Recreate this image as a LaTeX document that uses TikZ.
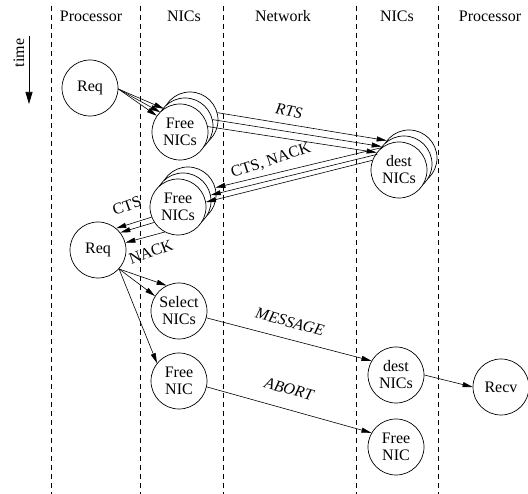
\documentclass[tikz,border=0pt]{standalone}
\usepackage{fontspec}
\setmainfont{Liberation Serif}
\usetikzlibrary{arrows.meta}

\tikzset{
  nic/.style={circle, draw, fill=white, line width=0.7pt, minimum size=56pt,
              inner sep=0pt, align=center, font=\fontsize{16}{17}\selectfont},
  lane/.style={dash pattern=on 5pt off 4pt, line width=0.7pt},
  msg/.style={-{Triangle[length=10pt,width=5pt]}, line width=0.6pt},
  head/.style={font=\fontsize{16}{17}\selectfont},
  lbl/.style={font=\fontsize{16}{17}\selectfont\itshape, inner sep=1pt},
  ulbl/.style={font=\fontsize{16}{17}\selectfont, inner sep=1pt}
}

\begin{document}
\begin{tikzpicture}[x=1pt, y=-1pt]
  \useasboundingbox (0,0) rectangle (528,494);

  % lanes
  \draw[lane] (51,6) -- (51,494);
  \draw[lane] (140,6) -- (140,494);
  \draw[lane] (223,6) -- (223,494);
  \draw[lane] (356,6) -- (356,494);
  \draw[lane] (438,6) -- (438,494);

  \node[head] (hproca) at (91,16) {Processor};
  \node[head] (hnica) at (184,16) {NICs};
  \node[head] (hnet) at (283,16) {Network};
  \node[head] (hnicb) at (397,16) {NICs};
  \node[head] (hprocb) at (490,16) {Processor};

  % time axis
  \coordinate (ttop) at (29,36);
  \coordinate (tbot) at (29,104);
  \draw[-{Triangle[length=12pt,width=7pt]}, line width=0.7pt] (ttop) -- (tbot);
  \node[head, rotate=90] (time) at (19,53) {time};

  % nodes
  \node[nic] (reqa) at (90,88) {Req};

  \node[nic] (freea3) at (190,120) {};
  \node[nic] (freea2) at (185,126) {};
  \node[nic] (freea) at (180,132) {Free\\NICs};

  \node[nic] (desta3) at (409,158) {};
  \node[nic] (desta2) at (404,164) {};
  \node[nic] (desta) at (399,170) {dest\\NICs};

  \node[nic] (freeb3) at (188,195) {};
  \node[nic] (freeb2) at (183,201) {};
  \node[nic] (freeb) at (178,207) {Free\\NICs};

  \node[nic] (reqb) at (98,250) {Req};
  \node[nic] (selnic) at (179,311) {Select\\NICs};
  \node[nic] (freenic) at (179,381) {Free\\NIC};
  \node[nic] (destb) at (396,375) {dest\\NICs};
  \node[nic] (recv) at (501,387) {Recv};
  \node[nic] (freenicb) at (396,447) {Free\\NIC};

  % request to free NICs
  \draw[msg] (reqa.-2) -- (freea3);
  \draw[msg] (reqa.-2) -- (freea2);
  \draw[msg] (reqa.-2) -- (freea);

  % RTS
  \draw[msg] (freea3.15) -- (desta3.142);
  \draw[msg] (freea2.13) -- (desta2.142);
  \draw[msg] (freea.11) -- (desta.142);
  \node[lbl, rotate=-10] (rts) at (289,111) {RTS};

  % CTS, NACK
  \draw[msg] (desta3.158) -- (freeb3.15);
  \draw[msg] (desta2.160) -- (freeb2.12);
  \draw[msg] (desta.160) -- (freeb.10);
  \node[ulbl, rotate=18] (ctsnack) at (271,161) {CTS, NACK};

  % back to the processor
  \draw[msg] (freeb.201) -- (reqb.50);
  \draw[msg] (freeb.213) -- (reqb.38);
  \draw[msg] (freeb.242) -- (reqb.15);
  \node[ulbl, rotate=20] (cts) at (127,206) {CTS};
  \node[ulbl, rotate=20] (nack) at (151,252) {NACK};

  % select and free
  \draw[msg] (reqb.-42) -- (selnic.116);
  \draw[msg] (reqb.-42) -- (selnic.148);
  \draw[msg] (reqb.-42) -- (freenic.141);

  % MESSAGE and ABORT
  \draw[msg] (selnic.-14) -- (destb.150);
  \node[lbl, rotate=-15] (message) at (290,322) {MESSAGE};
  \draw[msg] (destb.east) -- (recv.west);
  \draw[msg] (freenic.-12) -- (freenicb.150);
  \node[lbl, rotate=-15] (abort) at (289,389) {ABORT};
\end{tikzpicture}
\end{document}
